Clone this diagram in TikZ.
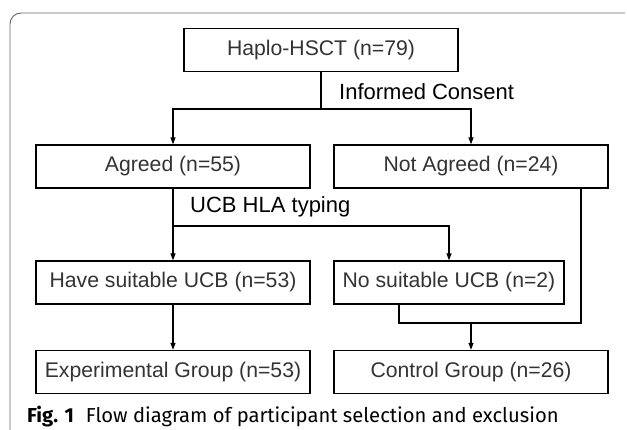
\documentclass[tikz,border=0pt]{standalone}
\usepackage{fontspec}
\setmainfont{Liberation Sans}
\newfontfamily\capfont{Fira Sans}
\usetikzlibrary{arrows.meta}

\tikzset{
    box/.style={draw, line width=1.3pt, minimum width=274pt, minimum height=43pt,
        inner sep=0pt, text=black!80, font=\fontsize{21.2}{25}\selectfont},
    lbl/.style={anchor=west, inner sep=0pt, font=\fontsize{22}{26}\selectfont},
    link/.style={line width=1.1pt},
    arr/.style={link, -{Triangle[length=7pt, width=5pt]}}
}

\begin{document}
\begin{tikzpicture}[x=1pt, y=-1pt]
    \useasboundingbox (0,0) rectangle (627,430);

    % outer frame
    \draw[black!60, line width=0.9pt, rounded corners=11pt] (10,432) -- (10,13) -- (625,13);

    % boxes
    \node[box] (haplo) at (321,50) {Haplo-HSCT (n=79)};
    \node[box] (agreed) at (173,166.5) {Agreed (n=55)};
    \node[box] (notagreed) at (471,166.5) {Not Agreed (n=24)};
    \node[box] (suitable) at (173,282.5) {Have suitable UCB (n=53)};
    \node[box, minimum width=230pt] (nosuitable) at (449,282.5) {No suitable UCB (n=2)};
    \node[box] (expgroup) at (173,372) {Experimental Group (n=53)};
    \node[box] (ctrlgroup) at (471,372) {Control Group (n=26)};

    % labels
    \node[lbl] (consent) at (339,92) {Informed Consent};
    \node[lbl] (typing) at (190,207) {UCB HLA typing};

    % junctions
    \coordinate (split1) at (321,109);
    \coordinate (split2) at (173,226);
    \coordinate (ljoin) at (399,323);
    \coordinate (rjoin) at (581,323);

    % connectors
    \draw[link] (haplo) -- (split1);
    \draw[arr] (split1) -| (agreed);
    \draw[arr] (split1) -| (notagreed);
    \draw[arr] (agreed) -- (suitable);
    \draw[arr] (split2) -| (nosuitable);
    \draw[arr] (suitable) -- (expgroup);
    \draw[link] (nosuitable.south -| ljoin) -- (ljoin) -- (rjoin) -- (rjoin |- notagreed.south);
    \draw[arr] (ljoin -| ctrlgroup) -- (ctrlgroup);

    % caption
    \node[anchor=west, inner sep=0pt, font=\capfont\fontsize{20.2}{24}\selectfont] (caption) at (27,417)
        {\textbf{Fig. 1}\hspace{12pt}Flow diagram of participant selection and exclusion};
\end{tikzpicture}
\end{document}
